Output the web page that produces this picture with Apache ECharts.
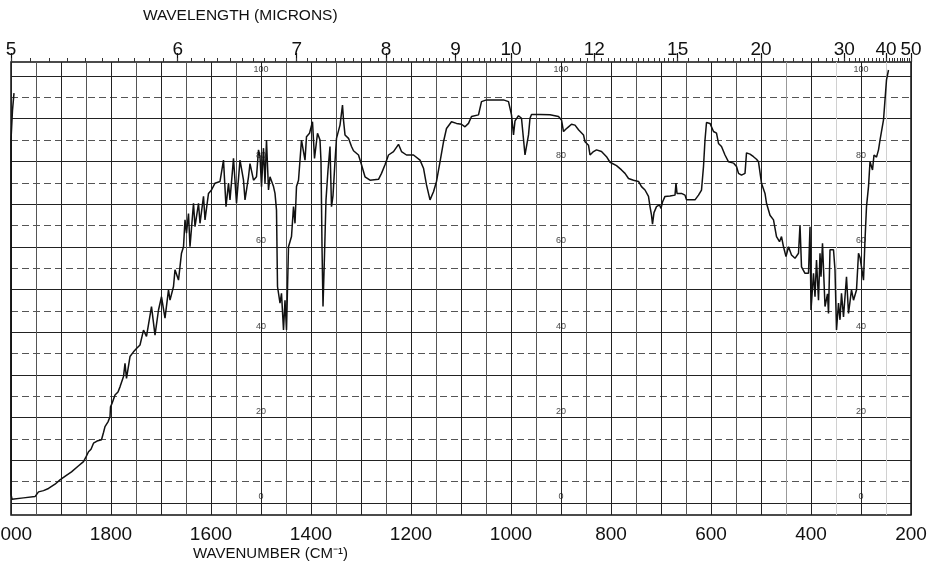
<!DOCTYPE html>
<html><head><meta charset="utf-8">
<script src="https://cdn.jsdelivr.net/npm/echarts@6/dist/echarts.min.js"></script>
<style>html,body{margin:0;padding:0;background:#fff}#c{width:933px;height:569px}</style>
</head><body><div id="c"></div>
<script>
// Wavenumber (cm-1) of each traced point, and % transmittance
const wavenumbers = [1994,1997,2000,2000,2000,1998,1975,1952,1945,1935,1925,1912,1902,1890,1879,1866,1855,1850,1845,1840,1835,1828,1819,1815,1812,1806,1802,1801,1798,1792,1786,1782,1775,1772,1769,1762,1755,1749,1742,1735,1729,1719,1712,1705,1699,1692,1685,1682,1675,1672,1665,1659,1655,1652,1649,1645,1642,1635,1632,1625,1622,1615,1612,1605,1599,1592,1582,1575,1570,1565,1562,1555,1549,1542,1535,1532,1525,1522,1515,1509,1505,1502,1499,1495,1492,1489,1485,1482,1475,1472,1469,1467,1462,1459,1455,1452,1449,1445,1439,1435,1432,1429,1425,1422,1419,1412,1409,1403,1397,1393,1387,1382,1380,1378,1376,1373,1370,1366,1362,1359,1356,1352,1349,1342,1337,1335,1332,1325,1319,1315,1305,1299,1292,1282,1265,1259,1252,1245,1235,1225,1219,1209,1195,1182,1175,1169,1162,1155,1149,1142,1135,1129,1119,1109,1099,1092,1085,1079,1065,1059,1049,1015,1005,999,995,992,985,979,972,965,962,959,942,922,905,899,895,890,885,879,872,865,855,852,845,842,835,829,819,809,802,799,789,779,772,765,755,745,739,732,725,722,719,717,714,709,703,700,697,692,682,672,670,668,659,652,649,632,625,619,615,612,609,602,595,589,585,579,572,565,555,549,545,539,532,529,522,515,509,505,499,492,489,482,475,469,463,459,455,450,445,439,432,425,422,419,412,405,402,400,395,392,389,385,382,380,377,372,367,365,362,355,352,349,345,342,339,335,329,325,319,315,309,305,302,299,295,292,289,285,282,277,274,269,265,262,255,252,249,245];
const transmittance = [96,92,85,40,2,0.9,1.2,1.5,2.6,2.9,3.4,4.4,5.4,6.4,7.3,8.6,9.7,10.8,12.0,12.6,14.0,14.5,14.8,16.5,17.9,19.0,20.2,22.5,23.3,25.3,26.0,27.2,29.6,32.7,29.2,34.3,35.4,36.2,37.0,40.5,39.0,46.0,39.3,45.2,48.3,43.3,49.9,47.5,50.7,54.6,52.2,58.5,60.0,66.3,63.2,67.8,60.0,70.2,64.7,70.2,65.5,71.8,66.3,72.5,73.3,74.9,75.3,80.3,69.4,74.9,71.0,80.7,70.2,80.3,75.6,71.0,76.4,79.5,75.6,76.4,82.7,81.1,74.1,83.1,74.9,85.0,73.3,76.4,74.1,72.5,68.6,50.7,46.8,49.1,40.5,47.5,40.5,60.0,62.4,69.4,65.5,74.1,75.6,80.3,85.0,80.3,85.8,86.6,89.3,80.7,86.6,85.0,80.0,60.0,46.0,58.0,71.0,78.0,83.5,69.4,72.0,80.0,85.4,88.5,93.2,89.7,86.2,85.4,83.5,82.5,81.5,79.2,76.4,75.6,75.8,77.2,79.2,81.5,82.3,84.0,82.3,81.5,81.5,80.3,78.4,74.5,71.0,72.9,75.3,79.9,84.6,87.7,89.3,88.9,88.7,88.1,88.9,90.5,90.9,94.0,94.4,94.4,94.0,90.9,86.2,89.5,90.7,90.1,81.5,86.2,90.1,91.0,91.0,90.9,90.5,89.7,87.0,87.6,88.1,88.7,88.5,87.4,86.2,84.6,83.8,81.5,82.3,82.7,82.3,81.1,79.8,79.6,79.0,78.0,77.2,76.0,75.6,75.3,74.1,73.3,71.8,69.4,67.4,65.3,68.0,69.4,69.8,69.0,70.5,71.8,71.9,72.1,74.9,72.5,72.5,72.1,71.0,71.0,72.1,73.3,78.8,85.0,89.1,88.9,87.0,86.6,84.2,83.5,81.5,79.9,79.6,78.8,77.2,76.8,77.2,82.0,81.7,81.1,80.5,79.9,74.9,72.5,70.2,67.4,66.3,62.4,61.2,62.4,60.0,57.7,60.0,58.1,57.3,58.5,65.1,55.3,53.8,53.8,64.7,45.2,53.8,48.3,56.9,47.5,58.5,53.0,60.8,46.0,49.0,44.4,59.3,59.3,54.6,40.5,46.8,42.9,49.1,43.6,53.0,44.4,49.9,47.5,49.9,58.5,57.5,57.7,52.2,61.6,69.4,74.1,79.9,78.0,81.5,81.0,82.7,85.0,89.7,94.4,99.1,101.4];

// Axis tick labels
const bottomLabels = [2000,1800,1600,1400,1200,1000,800,600,400,200];
const wavelengthLabels = [5,6,7,8,9,10,12,15,20,30,40,50];
const gridLabelColumns = [1500,900,300];
const gridLabelValues = [0,20,40,60,80,100];

// minor wavelength ticks (microns)
const minorWavelengths = [];
for (let w = 50; w < 100; w++) minorWavelengths.push(w / 10);
for (let w = 50; w < 75; w++) minorWavelengths.push(w / 5);
for (let w = 30; w < 40; w++) minorWavelengths.push(w / 2);
for (let w = 20; w <= 50; w++) minorWavelengths.push(w);

const FONT = "'Liberation Sans Narrow','Liberation Sans',sans-serif";
const majorWn = wavelengthLabels.map(l => 10000 / l);
const minorWn = minorWavelengths.map(l => 10000 / l).filter(v => v >= 200 && v <= 2000);

const vTicks = [];
for (let v = 200; v <= 2000; v += 50) vTicks.push(v);
const vColors = vTicks.map(v => (v < 400 && v % 100 === 50) ? '#d0d0d0' : (v === 450 ? '#999' : (v % 100 === 50 ? '#555' : '#222')));

const spectrum = wavenumbers.map((w, i) => [w, transmittance[i]]);
const gridLabels = [];
gridLabelColumns.forEach(c => gridLabelValues.forEach(v => gridLabels.push([c, v])));

const chart = echarts.init(document.getElementById('c'), null, {renderer: 'canvas'});
chart.setOption({
  backgroundColor: '#fff',
  animation: false,
  grid: [
    {left: 11, right: 22, top: 62, bottom: 54, show: true, borderColor: '#111', borderWidth: 1.5, backgroundColor: 'transparent',
     containLabel: false, outerBoundsMode: 'none'},
    {left: 11, right: 22, top: 76, bottom: 66, containLabel: false, outerBoundsMode: 'none'}
  ],
  xAxis: [
    {gridIndex: 0, type: 'value', min: 200, max: 2000, interval: 50, inverse: true, position: 'bottom',
     axisLine: {show: false}, axisTick: {show: false},
     splitLine: {show: true, lineStyle: {color: vColors, width: 1}},
     axisLabel: {show: true, margin: 10, fontSize: 19, color: '#111', fontFamily: FONT, hideOverlap: false,
       formatter: v => bottomLabels.includes(v) ? String(v) : ''}},
    {gridIndex: 1, type: 'value', min: 200, max: 2000, inverse: true, show: false},
    {gridIndex: 0, type: 'value', min: 200, max: 2000, inverse: true, position: 'top',
     axisLine: {show: false}, splitLine: {show: false},
     axisTick: {show: true, inside: false, length: 9, customValues: majorWn, lineStyle: {color: '#111', width: 1.2}},
     axisLabel: {show: true, customValues: majorWn, margin: 3, fontSize: 19, color: '#111', fontFamily: FONT,
       formatter: v => String(Math.round(10000 / v))}},
    {gridIndex: 0, type: 'value', min: 200, max: 2000, inverse: true, position: 'top',
     axisLine: {show: false}, splitLine: {show: false},
     axisTick: {show: true, inside: false, length: 4, customValues: minorWn, lineStyle: {color: '#333', width: 1}},
     axisLabel: {show: false}}
  ],
  yAxis: [
    {gridIndex: 0, type: 'value', min: 0, max: 1, show: false},
    {gridIndex: 1, type: 'value', min: 0, max: 100, interval: 5,
     axisLine: {show: false}, axisTick: {show: false}, axisLabel: {show: false},
     splitLine: {show: true, lineStyle: {color: '#555', width: 1, type: [7, 4]}}},
    {gridIndex: 1, type: 'value', min: 0, max: 100, interval: 10,
     axisLine: {show: false}, axisTick: {show: false}, axisLabel: {show: false},
     splitLine: {show: true, lineStyle: {color: '#222', width: 1.2}}}
  ],
  graphic: [
    {type: 'text', left: 143, top: 8, style: {text: 'WAVELENGTH (MICRONS)', fontSize: 15.5, fill: '#111', fontFamily: "'Liberation Sans',sans-serif"}},
    {type: 'text', left: 193, top: 546, style: {text: 'WAVENUMBER (CM⁻¹)', fontSize: 15, fill: '#111', fontFamily: "'Liberation Sans',sans-serif"}}
  ],
  series: [
    {type: 'line', xAxisIndex: 1, yAxisIndex: 1, data: spectrum, showSymbol: false, clip: false, z: 5,
     lineStyle: {color: '#111', width: 1.5}},
    {type: 'scatter', xAxisIndex: 1, yAxisIndex: 1, data: gridLabels, symbolSize: 1, z: 4,
     itemStyle: {color: 'rgba(0,0,0,0)'},
     label: {show: true, position: 'top', distance: 1, fontSize: 9, color: '#111', fontFamily: FONT,
       formatter: p => String(p.value[1])}}
  ]
});
</script></body></html>
